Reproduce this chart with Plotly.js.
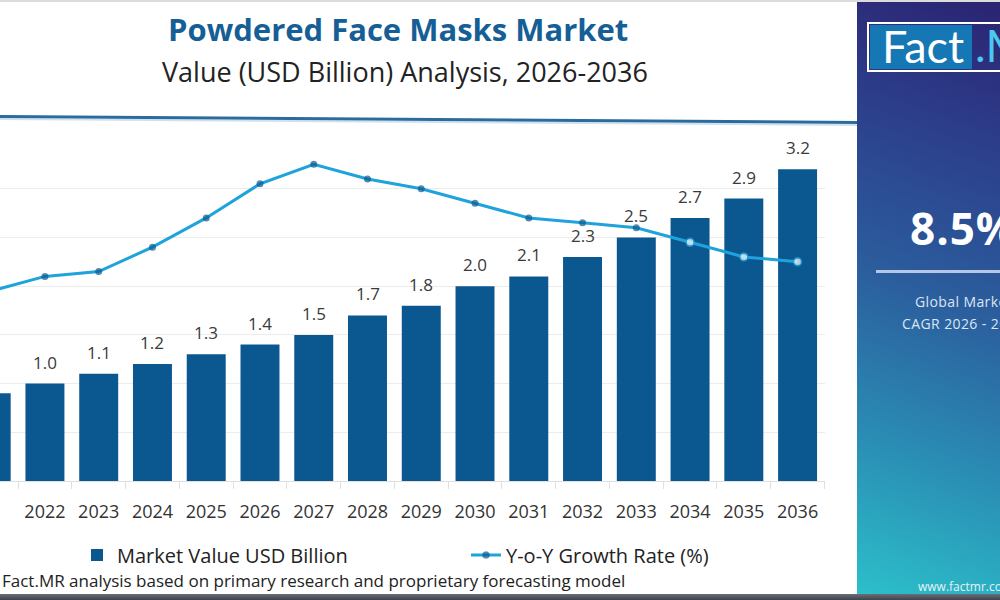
<!DOCTYPE html>
<html>
<head>
<meta charset="utf-8">
<script src="https://cdn.plot.ly/plotly-3.0.1.min.js"></script>
<style>
  html, body { margin: 0; padding: 0; width: 1000px; height: 600px; overflow: hidden; background: #fff; }
  #wrap { position: relative; width: 1000px; height: 600px; overflow: hidden; }
  #chart { position: absolute; left: 0; top: 0; width: 1000px; height: 600px; }
  #topstrip { position: absolute; left: 0; top: 0; width: 1000px; height: 2px; background: #dcdcdc; }
  #bottomstrip { position: absolute; left: 0; top: 594px; width: 1000px; height: 6px;
    background: linear-gradient(to bottom, #6a6e78, #3f434c); }
  #panel { position: absolute; left: 857px; top: 2px; width: 143px; height: 592px; overflow: hidden;
    background: linear-gradient(200deg, #2b2472 0%, #2c3d8a 22%, #2b5f9e 50%, #2a8db4 75%, #2cbfca 100%);
    font-family: "Open Sans", sans-serif; color: #fff; white-space: nowrap; }
  #logo { position: absolute; left: 10px; top: 20px; width: 200px; height: 46px; border: 2px solid #fff; }
  #logo .box { position: absolute; left: 1px; top: 1px; width: 102px; height: 44px; background: #1677b5; }
  #logo .fact { position: absolute; left: 12px; top: -6px; font-family: Lato, sans-serif; font-size: 45px; color: #fff; }
  #logo .mr { position: absolute; left: 106px; top: -6px; font-family: Lato, sans-serif; font-size: 45px; color: #49c9ec; }
  #cagr { position: absolute; left: 53px; top: 196px; font-size: 44px; font-weight: 700; letter-spacing: 1px; }
  #rule { position: absolute; left: 19px; top: 268px; width: 200px; height: 3px; background: #b6c6e6; }
  #lbl1 { position: absolute; left: 58px; top: 290px; font-size: 14px; letter-spacing: 0.4px; color: #dde5f2; }
  #lbl2 { position: absolute; left: 45px; top: 312px; font-size: 14px; letter-spacing: 0.4px; color: #dde5f2; }
  #web { position: absolute; left: 61px; top: 576px; font-size: 12px; color: #e6f2f6; }
</style>
</head>
<body>
<div id="wrap">
  <div id="chart"></div>
  <div id="topstrip"></div>
  <div id="panel">
    <div id="logo">
      <div class="box"><span class="fact">Fact</span></div>
      <span class="mr">.MR</span>
    </div>
    <div id="cagr">8.5%</div>
    <div id="rule"></div>
    <div id="lbl1">Global Market</div>
    <div id="lbl2">CAGR 2026 - 2036</div>
    <div id="web">www.factmr.com</div>
  </div>
  <div id="bottomstrip"></div>
</div>
<script>
// Years on the category axis
const years = ['2021', '2022', '2023', '2024', '2025', '2026', '2027', '2028',
               '2029', '2030', '2031', '2032', '2033', '2034', '2035', '2036'];
// Market value, USD billion
const marketValue = [0.9, 1.0, 1.1, 1.2, 1.3, 1.4, 1.5, 1.7, 1.8, 2.0, 2.1, 2.3, 2.5, 2.7, 2.9, 3.2];
// Year-on-year growth rate, %
const growthRate = [7.9, 8.2, 8.3, 8.8, 9.4, 10.1, 10.5, 10.2, 10.0, 9.7, 9.4, 9.3, 9.2, 8.9, 8.6, 8.5];
// Years drawn with open markers
const openYears = ['2034', '2035', '2036'];

const BAR = '#0b5891';
const LINE = '#1fa3dc';
const DOT = '#0b5a8f';

// plot-area geometry in pixels, used to place paper-referenced text
const W = 1000, H = 600, L = 0, R = 175, T = 140, B = 119;
const plotW = W - L - R, plotH = H - T - B;
const px = x => (x - L) / plotW;
const py = y => (H - B - y) / plotH;

const isOpen = years.map(y => openYears.includes(y));

const bars = {
  type: 'bar',
  name: 'Market Value USD Billion',
  legend: 'legend',
  x: years,
  y: marketValue,
  marker: { color: BAR },
  width: 0.725,
  hoverinfo: 'x+y'
};

const growth = {
  type: 'scatter',
  mode: 'lines+markers',
  name: 'Y-o-Y Growth Rate (%)',
  legend: 'legend2',
  x: years,
  y: growthRate,
  yaxis: 'y2',
  line: { color: LINE, width: 3 },
  marker: {
    symbol: 'circle',
    size: isOpen.map(o => o ? 8 : 7),
    color: isOpen.map(o => o ? '#ffffff' : DOT),
    line: { color: isOpen.map(o => o ? LINE : DOT), width: isOpen.map(o => o ? 1.5 : 0) }
  },
  cliponaxis: true
};

// value labels above each bar (x given as the category's serial position)
const valueLabels = years.map((yr, i) => ({
  x: i, y: marketValue[i], xref: 'x', yref: 'y',
  text: marketValue[i].toFixed(1),
  showarrow: false, xanchor: 'center', yanchor: 'bottom', yshift: 8,
  font: { family: 'Open Sans, sans-serif', size: 17, color: '#3a3a3a' }
}));

const textNotes = [
  { text: '<b>Powdered Face Masks Market</b>', x: px(398), y: py(29),
    font: { family: 'Open Sans, sans-serif', size: 31, color: '#155f96' } },
  { text: 'Value (USD Billion) Analysis, 2026-2036', x: px(405), y: py(72),
    font: { family: 'Open Sans, sans-serif', size: 27, color: '#222222' } },
  { text: 'Fact.MR analysis based on primary research and proprietary forecasting model',
    x: px(0), y: py(580), xanchor: 'left',
    font: { family: 'Open Sans, sans-serif', size: 17, color: '#222222' } }
].map(a => Object.assign({ xref: 'paper', yref: 'paper', showarrow: false,
  xanchor: 'center', yanchor: 'middle' }, a));

const legendStyle = {
  orientation: 'h',
  yanchor: 'middle',
  y: py(555),
  xanchor: 'left',
  itemwidth: 30,
  font: { family: 'Open Sans, sans-serif', size: 20, color: '#222222' },
  bgcolor: 'rgba(0,0,0,0)'
};

const layout = {
  width: W, height: H,
  margin: { l: L, r: R, t: T, b: B, pad: 0, autoexpand: false },
  paper_bgcolor: '#ffffff',
  plot_bgcolor: '#ffffff',
  showlegend: true,
  legend: Object.assign({}, legendStyle, { x: px(77) }),
  legend2: Object.assign({}, legendStyle, { x: px(466) }),
  xaxis: {
    type: 'category',
    range: [0.164, 15.51],
    showgrid: false,
    showline: true, linecolor: '#e0e0e0', linewidth: 1,
    ticks: 'outside', tickson: 'boundaries', ticklen: 7, tickcolor: '#e0e0e0',
    ticklabelstandoff: 14,
    tickangle: 0,
    tickfont: { family: 'Open Sans, sans-serif', size: 18, color: '#333333' },
    fixedrange: true
  },
  yaxis: {
    range: [0, 3.5005],
    dtick: 0.5,
    showticklabels: false,
    showgrid: true, gridcolor: '#ececec', gridwidth: 1,
    zeroline: false, showline: false,
    fixedrange: true
  },
  yaxis2: {
    overlaying: 'y',
    side: 'right',
    range: [4, 11],
    visible: false,
    showgrid: false,
    fixedrange: true
  },
  bargap: 0.275,
  shapes: [
    { type: 'line', xref: 'paper', yref: 'paper',
      x0: px(0), x1: px(857), y0: py(116.5), y1: py(122.5),
      line: { color: '#2c6c9c', width: 3 } },
    { type: 'line', xref: 'paper', yref: 'paper',
      x0: px(0), x1: px(857), y0: py(119), y1: py(125),
      line: { color: 'rgba(120,170,205,0.35)', width: 2 } }
  ],
  annotations: valueLabels.concat(textNotes)
};

Plotly.newPlot('chart', [bars, growth], layout, { displayModeBar: false, staticPlot: true });
</script>
</body>
</html>
